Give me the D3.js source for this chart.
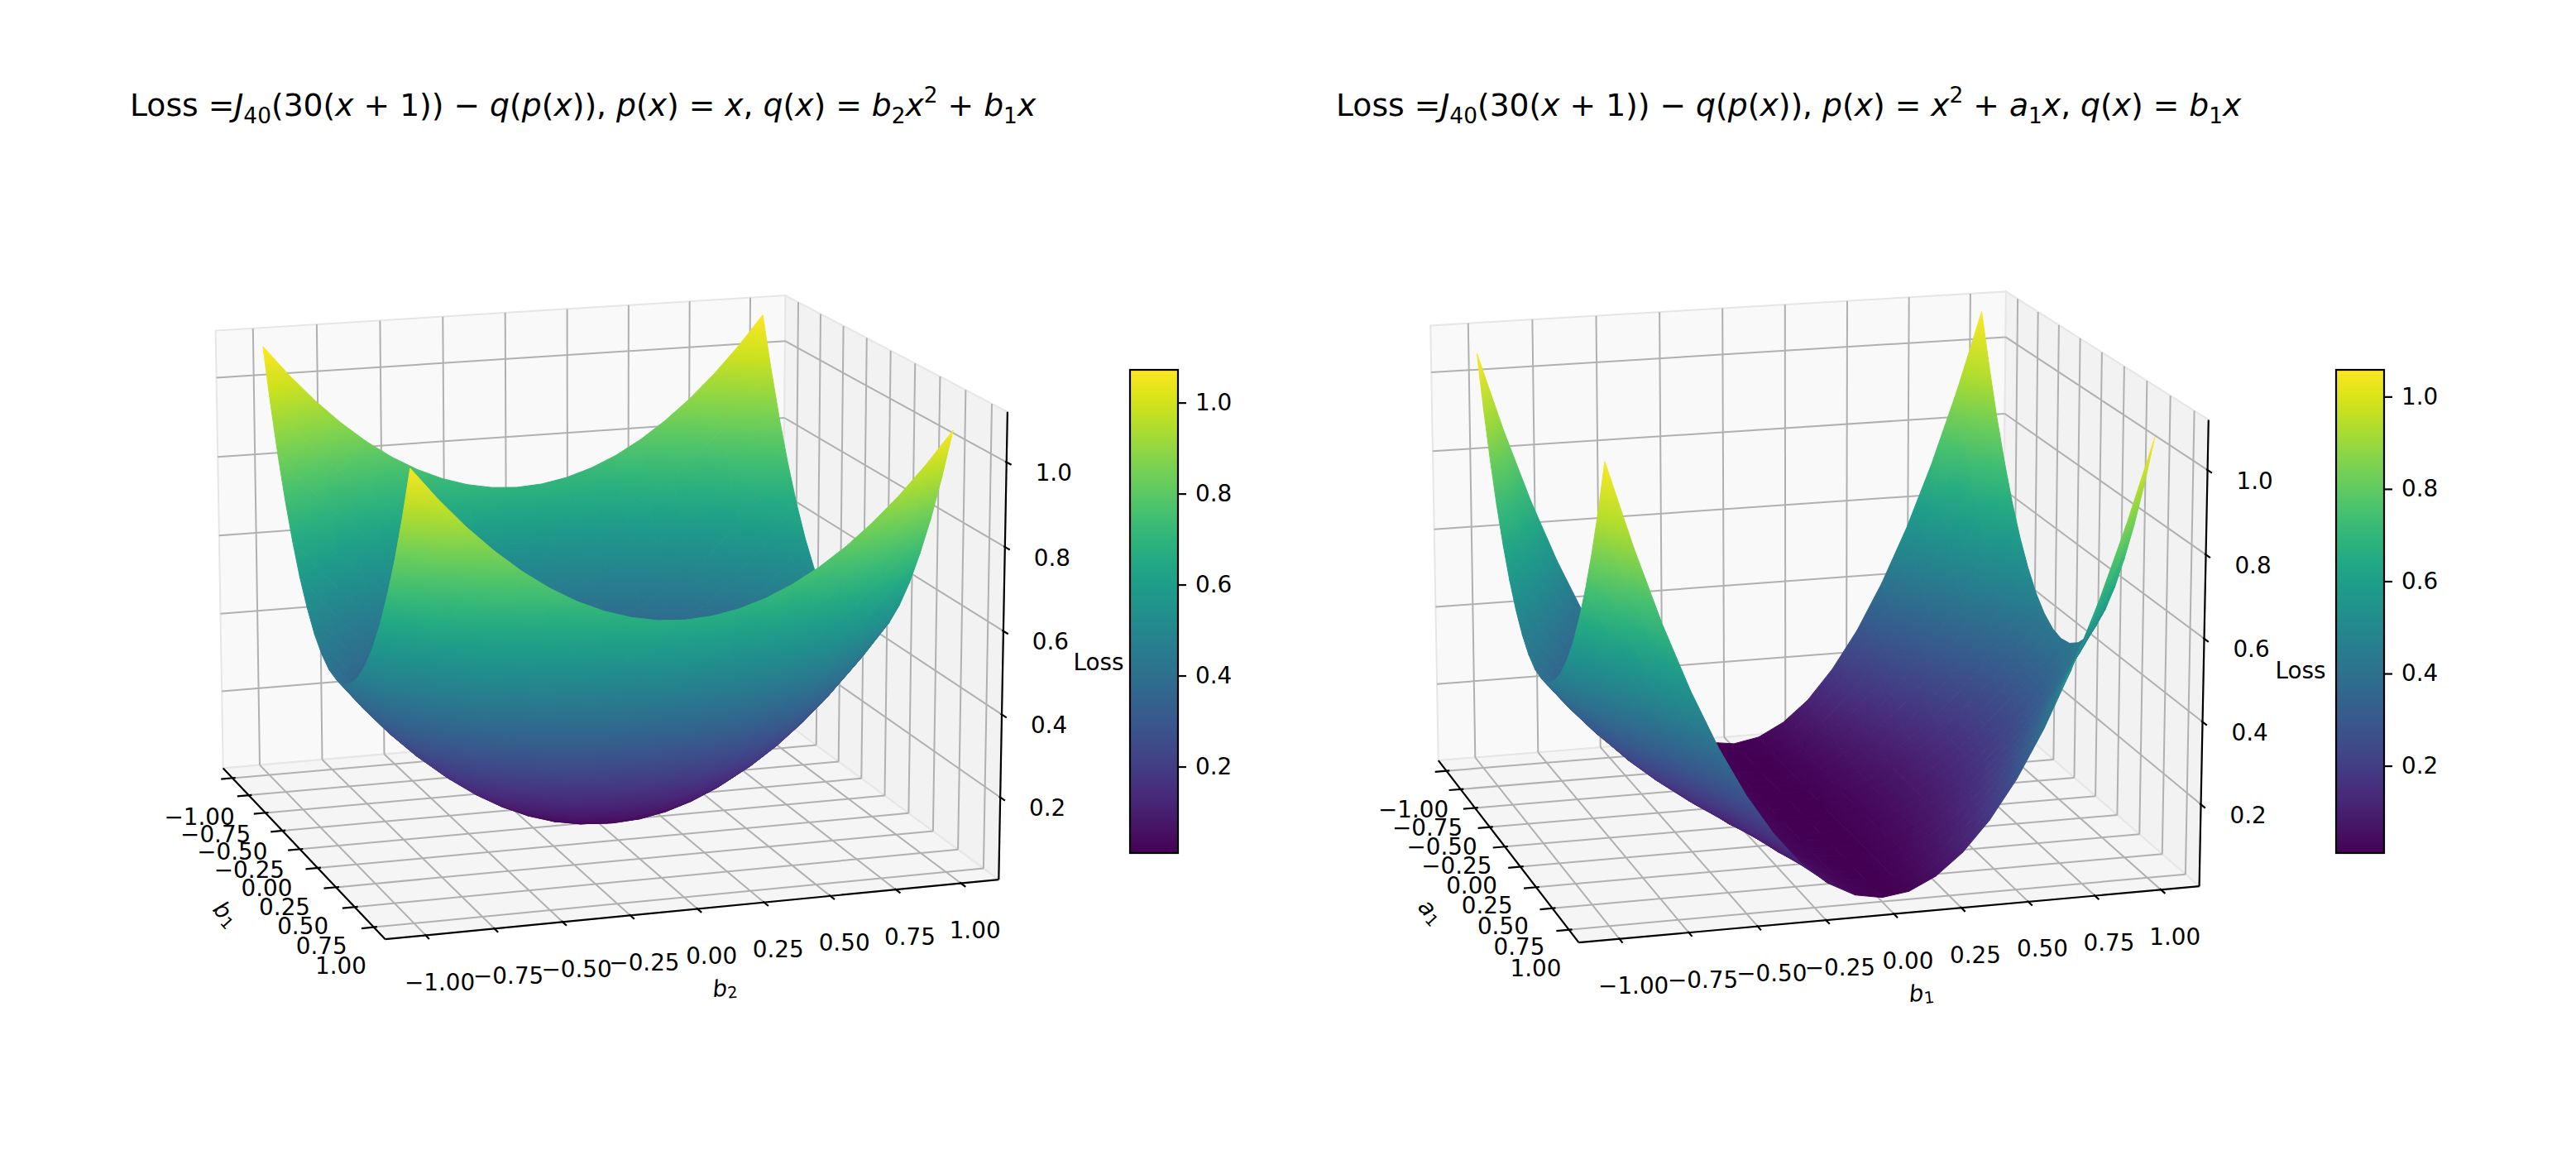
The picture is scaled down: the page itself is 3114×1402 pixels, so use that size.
<!DOCTYPE html>
<html>
<head>
<meta charset="utf-8">
<script src="https://cdn.jsdelivr.net/npm/d3@7"></script>
<style>
  body { margin: 0; background: #fff; }
  svg { display: block; }
  text { font-family: "DejaVu Sans", sans-serif; fill: #000; }
</style>
</head>
<body>
<script>
// sample positions of the parameter grid (both horizontal axes)
var gridPos = [-1, -0.9, -0.8, -0.7, -0.6, -0.5, -0.4, -0.3, -0.2, -0.1, 0,
               0.1, 0.2, 0.3, 0.4, 0.5, 0.6, 0.7, 0.8, 0.9, 1];

var paramTicks = [-1, -0.75, -0.5, -0.25, 0, 0.25, 0.5, 0.75, 1];
var lossTicks = [0.2, 0.4, 0.6, 0.8, 1.0];

// colour limits
var cbarRangeLeft = [0.010, 1.072];
var cbarRangeRight = [0.011, 1.058];

// left surface: rows = b1 (-1 .. 1), columns = b2 (-1 .. 1)
var lossLeft = [
  [1.091,1.015,0.947,0.887,0.835,0.791,0.755,0.727,0.707,0.695,0.691,0.695,0.707,0.727,0.755,0.791,0.835,0.887,0.947,1.015,1.091],
  [0.963,0.887,0.819,0.759,0.707,0.663,0.627,0.599,0.579,0.567,0.563,0.567,0.579,0.599,0.627,0.663,0.707,0.759,0.819,0.887,0.963],
  [0.848,0.772,0.704,0.644,0.592,0.548,0.512,0.484,0.464,0.452,0.448,0.452,0.464,0.484,0.512,0.548,0.592,0.644,0.704,0.772,0.848],
  [0.747,0.671,0.603,0.543,0.491,0.447,0.411,0.383,0.363,0.351,0.347,0.351,0.363,0.383,0.411,0.447,0.491,0.543,0.603,0.671,0.747],
  [0.659,0.583,0.515,0.455,0.403,0.359,0.323,0.295,0.275,0.263,0.259,0.263,0.275,0.295,0.323,0.359,0.403,0.455,0.515,0.583,0.659],
  [0.584,0.508,0.440,0.380,0.328,0.284,0.248,0.220,0.200,0.188,0.184,0.188,0.200,0.220,0.248,0.284,0.328,0.380,0.440,0.508,0.584],
  [0.523,0.447,0.379,0.319,0.267,0.223,0.187,0.159,0.139,0.127,0.123,0.127,0.139,0.159,0.187,0.223,0.267,0.319,0.379,0.447,0.523],
  [0.474,0.398,0.330,0.270,0.218,0.174,0.138,0.110,0.090,0.078,0.074,0.078,0.090,0.110,0.138,0.174,0.218,0.270,0.330,0.398,0.474],
  [0.440,0.364,0.296,0.236,0.184,0.140,0.104,0.076,0.056,0.044,0.040,0.044,0.056,0.076,0.104,0.140,0.184,0.236,0.296,0.364,0.440],
  [0.418,0.342,0.274,0.214,0.162,0.118,0.082,0.054,0.034,0.022,0.018,0.022,0.034,0.054,0.082,0.118,0.162,0.214,0.274,0.342,0.418],
  [0.410,0.334,0.266,0.206,0.154,0.110,0.074,0.046,0.026,0.014,0.010,0.014,0.026,0.046,0.074,0.110,0.154,0.206,0.266,0.334,0.410],
  [0.415,0.339,0.271,0.211,0.159,0.115,0.079,0.051,0.031,0.019,0.015,0.019,0.031,0.051,0.079,0.115,0.159,0.211,0.271,0.339,0.415],
  [0.434,0.358,0.290,0.230,0.178,0.134,0.098,0.070,0.050,0.038,0.034,0.038,0.050,0.070,0.098,0.134,0.178,0.230,0.290,0.358,0.434],
  [0.466,0.390,0.322,0.262,0.210,0.166,0.130,0.102,0.082,0.070,0.066,0.070,0.082,0.102,0.130,0.166,0.210,0.262,0.322,0.390,0.466],
  [0.511,0.435,0.367,0.307,0.255,0.211,0.175,0.147,0.127,0.115,0.111,0.115,0.127,0.147,0.175,0.211,0.255,0.307,0.367,0.435,0.511],
  [0.569,0.493,0.425,0.365,0.313,0.269,0.233,0.205,0.185,0.173,0.169,0.173,0.185,0.205,0.233,0.269,0.313,0.365,0.425,0.493,0.569],
  [0.641,0.565,0.497,0.437,0.385,0.341,0.305,0.277,0.257,0.245,0.241,0.245,0.257,0.277,0.305,0.341,0.385,0.437,0.497,0.565,0.641],
  [0.727,0.651,0.583,0.523,0.471,0.427,0.391,0.363,0.343,0.331,0.327,0.331,0.343,0.363,0.391,0.427,0.471,0.523,0.583,0.651,0.727],
  [0.825,0.749,0.681,0.621,0.569,0.525,0.489,0.461,0.441,0.429,0.425,0.429,0.441,0.461,0.489,0.525,0.569,0.621,0.681,0.749,0.825],
  [0.937,0.861,0.793,0.733,0.681,0.637,0.601,0.573,0.553,0.541,0.537,0.541,0.553,0.573,0.601,0.637,0.681,0.733,0.793,0.861,0.937],
  [1.062,0.986,0.918,0.858,0.806,0.762,0.726,0.698,0.678,0.666,0.662,0.666,0.678,0.698,0.726,0.762,0.806,0.858,0.918,0.986,1.062]
];

// right surface: rows = a1 (-1 .. 1), columns = b1 (-1 .. 1)
var lossRight = [
  [1.062,0.861,0.681,0.523,0.385,0.269,0.175,0.102,0.050,0.019,0.010,0.022,0.056,0.110,0.187,0.284,0.403,0.543,0.704,0.887,1.091],
  [0.937,0.760,0.601,0.461,0.341,0.238,0.155,0.091,0.045,0.018,0.010,0.021,0.050,0.099,0.166,0.252,0.356,0.480,0.622,0.783,0.963],
  [0.825,0.669,0.530,0.407,0.301,0.211,0.138,0.081,0.041,0.017,0.010,0.020,0.045,0.088,0.147,0.223,0.315,0.423,0.548,0.690,0.848],
  [0.727,0.590,0.467,0.359,0.266,0.187,0.122,0.072,0.037,0.016,0.010,0.018,0.041,0.078,0.130,0.197,0.278,0.373,0.483,0.608,0.747],
  [0.641,0.521,0.413,0.318,0.235,0.166,0.109,0.065,0.034,0.016,0.010,0.017,0.037,0.070,0.116,0.174,0.246,0.330,0.427,0.536,0.659],
  [0.569,0.463,0.367,0.283,0.210,0.148,0.098,0.059,0.031,0.015,0.010,0.016,0.034,0.063,0.104,0.155,0.218,0.293,0.379,0.476,0.584],
  [0.511,0.415,0.330,0.254,0.189,0.134,0.089,0.054,0.029,0.015,0.010,0.016,0.032,0.057,0.093,0.140,0.196,0.262,0.339,0.426,0.523],
  [0.466,0.379,0.301,0.232,0.173,0.123,0.082,0.050,0.028,0.014,0.010,0.015,0.029,0.053,0.085,0.127,0.178,0.238,0.308,0.387,0.474],
  [0.434,0.353,0.281,0.217,0.162,0.115,0.077,0.048,0.027,0.014,0.010,0.015,0.028,0.049,0.080,0.118,0.165,0.221,0.285,0.358,0.440],
  [0.415,0.338,0.269,0.208,0.156,0.111,0.075,0.046,0.026,0.014,0.010,0.014,0.027,0.047,0.076,0.112,0.157,0.210,0.272,0.341,0.418],
  [0.410,0.334,0.266,0.206,0.154,0.110,0.074,0.046,0.026,0.014,0.010,0.014,0.026,0.046,0.074,0.110,0.154,0.206,0.266,0.334,0.410],
  [0.418,0.341,0.272,0.210,0.157,0.112,0.076,0.047,0.027,0.014,0.010,0.014,0.026,0.046,0.075,0.111,0.156,0.208,0.269,0.338,0.415],
  [0.440,0.358,0.285,0.221,0.165,0.118,0.080,0.049,0.028,0.015,0.010,0.014,0.027,0.048,0.077,0.115,0.162,0.217,0.281,0.353,0.434],
  [0.474,0.387,0.308,0.238,0.178,0.127,0.085,0.053,0.029,0.015,0.010,0.014,0.028,0.050,0.082,0.123,0.173,0.232,0.301,0.379,0.466],
  [0.523,0.426,0.339,0.262,0.196,0.140,0.093,0.057,0.032,0.016,0.010,0.015,0.029,0.054,0.089,0.134,0.189,0.254,0.330,0.415,0.511],
  [0.584,0.476,0.379,0.293,0.218,0.155,0.104,0.063,0.034,0.016,0.010,0.015,0.031,0.059,0.098,0.148,0.210,0.283,0.367,0.463,0.569],
  [0.659,0.536,0.427,0.330,0.246,0.174,0.116,0.070,0.037,0.017,0.010,0.016,0.034,0.065,0.109,0.166,0.235,0.318,0.413,0.521,0.641],
  [0.747,0.608,0.483,0.373,0.278,0.197,0.130,0.078,0.041,0.018,0.010,0.016,0.037,0.072,0.122,0.187,0.266,0.359,0.467,0.590,0.727],
  [0.848,0.690,0.548,0.423,0.315,0.223,0.147,0.088,0.045,0.020,0.010,0.017,0.041,0.081,0.138,0.211,0.301,0.407,0.530,0.669,0.825],
  [0.963,0.783,0.622,0.480,0.356,0.252,0.166,0.099,0.050,0.021,0.010,0.018,0.045,0.091,0.155,0.238,0.341,0.461,0.601,0.760,0.937],
  [1.091,0.887,0.704,0.543,0.403,0.284,0.187,0.110,0.056,0.022,0.010,0.019,0.050,0.102,0.175,0.269,0.385,0.523,0.681,0.861,1.062]
];

// titles as mathtext-ish pieces: [text, style]
var titleLeft = [["Loss  =",""],["J","i"],["40","sub"],["(30(",""],["x","i"],[" + 1)) \u2212 ",""],["q","i"],["(",""],["p","i"],["(",""],["x","i"],[")), ",""],
  ["p","i"],["(",""],["x","i"],[") = ",""],["x","i"],[", ",""],["q","i"],["(",""],["x","i"],[") = ",""],["b","i"],["2","sub"],["x","i"],["2","sup"],[" + ",""],["b","i"],["1","sub"],["x","i"]];
var titleRight = [["Loss  =",""],["J","i"],["40","sub"],["(30(",""],["x","i"],[" + 1)) \u2212 ",""],["q","i"],["(",""],["p","i"],["(",""],["x","i"],[")), ",""],
  ["p","i"],["(",""],["x","i"],[") = ",""],["x","i"],["2","sup"],[" + ",""],["a","i"],["1","sub"],["x","i"],[", ",""],["q","i"],["(",""],["x","i"],[") = ",""],["b","i"],["1","sub"],["x","i"]];

var width = 3114, height = 1402;
var svg = d3.select('body').append('svg')
            .attr('width', width)
            .attr('height', height);
var defs = svg.append('defs');

// view like matplotlib's 3d axes: box aspect 4:4:3, perspective, dist 10
var dist = 10;
var boxAspect = [1.1429, 1.1429, 0.8571];
var paneXY = [-1.146, 1.146];
var paneZ = [0.0, 1.118];

var camera = function(view) {
  var e = view.elev * Math.PI / 180, a = view.azim * Math.PI / 180;
  var w = [Math.cos(e) * Math.cos(a), Math.cos(e) * Math.sin(a), Math.sin(e)];
  var u = [-Math.sin(a), Math.cos(a), 0];
  var v = [-Math.sin(e) * Math.cos(a), -Math.sin(e) * Math.sin(a), Math.cos(e)];
  var wx = d3.scaleLinear().domain(paneXY).range([-boxAspect[0] / 2, boxAspect[0] / 2]);
  var wy = d3.scaleLinear().domain(paneXY).range([-boxAspect[1] / 2, boxAspect[1] / 2]);
  var wz = d3.scaleLinear().domain(paneZ).range([-boxAspect[2] / 2, boxAspect[2] / 2]);
  return function(x, y, z) {
    var p = [wx(x), wy(y), wz(z)];
    var pu = p[0] * u[0] + p[1] * u[1] + p[2] * u[2];
    var pv = p[0] * v[0] + p[1] * v[1] + p[2] * v[2];
    var pd = p[0] * w[0] + p[1] * w[1] + p[2] * w[2];
    var f = dist / (dist - pd);
    return [view.cx + view.s * pu * f, view.cy - view.s * pv * f, pd];
  };
};

var mathText = function(sel, pieces, size) {
  var shift = 0;
  pieces.forEach(function(pc) {
    var t = sel.append('tspan').text(pc[0]);
    var target = 0;
    if (pc[1] === 'i') t.attr('font-style', 'italic');
    if (pc[1] === 'sub') { target = size * 0.24; t.attr('font-size', size * 0.7); }
    if (pc[1] === 'sup') { target = -size * 0.42; t.attr('font-size', size * 0.7); }
    if (target !== shift) { t.attr('dy', target - shift); shift = target; }
  });
};

// linear shading across one facet, from the screen gradient of its corner values
var facetShade = function(pr, zc) {
  var ax = pr[2][0] - pr[0][0], ay = pr[2][1] - pr[0][1], az = zc[2] - zc[0];
  var bx = pr[3][0] - pr[1][0], by = pr[3][1] - pr[1][1], bz = zc[3] - zc[1];
  var det = ax * by - ay * bx;
  if (Math.abs(det) < 1e-6) return null;
  var gx = (az * by - ay * bz) / det, gy = (ax * bz - bx * az) / det;
  var gl = Math.sqrt(gx * gx + gy * gy);
  if (gl < 1e-9) return null;
  var nx = gx / gl, ny = gy / gl;
  var mx = d3.mean(pr, function(p) { return p[0]; }), my = d3.mean(pr, function(p) { return p[1]; });
  var mz = d3.mean(zc);
  var ts = pr.map(function(p) { return (p[0] - mx) * nx + (p[1] - my) * ny; });
  var t0 = d3.min(ts), t1 = d3.max(ts);
  var zlo = d3.min(zc), zhi = d3.max(zc);
  var clamp = function(val) { return Math.max(zlo, Math.min(zhi, val)); };
  return {x1: mx + t0 * nx, y1: my + t0 * ny, x2: mx + t1 * nx, y2: my + t1 * ny,
          z1: clamp(mz + gl * t0), z2: clamp(mz + gl * t1)};
};

var drawPlot = function(opt) {
  var g = svg.append('g');
  var proj = camera(opt.view);
  var lo = paneXY[0], hi = paneXY[1], z0 = paneZ[0], z1 = paneZ[1];
  var pt = function(p) { var q = proj(p[0], p[1], p[2]); return q[0].toFixed(1) + ',' + q[1].toFixed(1); };
  var poly = function(ps) { return 'M' + ps.map(pt).join('L') + 'Z'; };
  var seg = function(a, b) { return 'M' + pt(a) + 'L' + pt(b); };

  // panes: back wall, right wall, floor
  var panes = [
    {pts: [[lo, lo, z0], [lo, hi, z0], [lo, hi, z1], [lo, lo, z1]], fill: '#f9f9f9'},
    {pts: [[lo, hi, z0], [hi, hi, z0], [hi, hi, z1], [lo, hi, z1]], fill: '#f2f2f2'},
    {pts: [[lo, lo, z0], [hi, lo, z0], [hi, hi, z0], [lo, hi, z0]], fill: '#f5f5f5'}
  ];
  g.selectAll('path.pane').data(panes).enter().append('path')
    .attr('d', function(d) { return poly(d.pts); })
    .attr('fill', function(d) { return d.fill; })
    .attr('stroke', '#e6e6e6')
    .attr('stroke-width', 2);

  // grid lines
  var grid = [];
  paramTicks.forEach(function(t) {
    grid.push([[lo, t, z0], [lo, t, z1]]);
    grid.push([[t, hi, z0], [t, hi, z1]]);
    grid.push([[t, lo, z0], [t, hi, z0]]);
    grid.push([[lo, t, z0], [hi, t, z0]]);
  });
  lossTicks.forEach(function(t) {
    grid.push([[lo, lo, t], [lo, hi, t]]);
    grid.push([[lo, hi, t], [hi, hi, t]]);
  });
  g.selectAll('path.grid').data(grid).enter().append('path')
    .attr('d', function(d) { return seg(d[0], d[1]); })
    .attr('stroke', '#b0b0b0')
    .attr('stroke-width', 2)
    .attr('fill', 'none');

  // axis lines
  var axes = [[[lo, lo, z0], [hi, lo, z0]], [[hi, lo, z0], [hi, hi, z0]], [[hi, hi, z0], [hi, hi, z1]]];
  g.selectAll('path.axis').data(axes).enter().append('path')
    .attr('d', function(d) { return seg(d[0], d[1]); })
    .attr('stroke', '#000')
    .attr('stroke-width', 2.2);

  // ticks
  var ticks = [];
  paramTicks.forEach(function(t) {
    ticks.push([[t, lo + 0.012, z0], [t, lo - 0.045, z0]]);
    ticks.push([[hi - 0.012, t, z0], [hi + 0.045, t, z0]]);
  });
  lossTicks.forEach(function(t) {
    ticks.push([[hi - 0.012, hi, t], [hi + 0.045, hi, t]]);
  });
  g.selectAll('path.tick').data(ticks).enter().append('path')
    .attr('d', function(d) { return seg(d[0], d[1]); })
    .attr('stroke', '#000')
    .attr('stroke-width', 2.2);

  var fmt2 = d3.format('.2f'), fmt1 = d3.format('.1f');
  var labels = g.append('g').attr('font-size', 27.8).attr('text-anchor', 'middle');
  paramTicks.forEach(function(t) {
    var p = proj(t, lo, z0);
    labels.append('text').attr('x', p[0] - 40).attr('y', p[1] + 47)
      .attr('dominant-baseline', 'central').text(fmt2(t));
    var q = proj(hi, t, z0);
    labels.append('text').attr('x', q[0] + 17).attr('y', q[1] + 57)
      .attr('dominant-baseline', 'central').text(fmt2(t));
  });
  lossTicks.forEach(function(t) {
    var p = proj(hi, hi, t);
    labels.append('text').attr('x', p[0] + 57).attr('y', p[1] + 13)
      .attr('dominant-baseline', 'central').text(fmt1(t));
  });

  // axis labels
  var pd0 = proj(0, lo, z0);
  var dl = labels.append('text')
    .attr('transform', 'translate(' + (pd0[0] - 89) + ',' + (pd0[1] + 78) + ') rotate(48)')
    .attr('dominant-baseline', 'central');
  mathText(dl, [[opt.depthName, 'i'], ['1', 'sub']], 27.8);
  var pf0 = proj(hi, 0, z0);
  var fl = labels.append('text')
    .attr('transform', 'translate(' + (pf0[0] + 33) + ',' + (pf0[1] + 95) + ') rotate(-5.6)')
    .attr('dominant-baseline', 'central');
  mathText(fl, [['b', 'i'], [opt.frontSub, 'sub']], 27.8);
  labels.append('text').attr('x', opt.lossLabel[0]).attr('y', opt.lossLabel[1])
    .attr('dominant-baseline', 'central').text('Loss');

  // surface
  var zs = opt.loss;
  var color = d3.scaleSequential(d3.interpolateViridis).domain(opt.cbar).clamp(true);
  var quads = [];
  for (var i = 0; i < gridPos.length - 1; i++) {
    for (var j = 0; j < gridPos.length - 1; j++) {
      var c = [[i, j], [i + 1, j], [i + 1, j + 1], [i, j + 1]].map(function(k) {
        return [gridPos[k[0]], gridPos[k[1]], zs[k[0]][k[1]]];
      });
      var pr = c.map(function(p) { return proj(p[0], p[1], p[2]); });
      var zc = c.map(function(p) { return p[2]; });
      quads.push({
        id: opt.id + 'f' + i + '_' + j,
        d: 'M' + pr.map(function(p) { return p[0].toFixed(1) + ',' + p[1].toFixed(1); }).join('L') + 'Z',
        depth: d3.mean(pr, function(p) { return p[2]; }),
        z: d3.mean(zc),
        shade: facetShade(pr, zc)
      });
    }
  }
  quads.sort(function(a, b) { return a.depth - b.depth; });
  quads.forEach(function(q) {
    if (!q.shade) { q.paint = color(q.z); return; }
    var lg = defs.append('linearGradient').attr('id', q.id)
      .attr('gradientUnits', 'userSpaceOnUse')
      .attr('x1', q.shade.x1).attr('y1', q.shade.y1)
      .attr('x2', q.shade.x2).attr('y2', q.shade.y2);
    [0, 0.5, 1].forEach(function(t) {
      lg.append('stop').attr('offset', t)
        .attr('stop-color', color(q.shade.z1 + (q.shade.z2 - q.shade.z1) * t));
    });
    q.paint = 'url(#' + q.id + ')';
  });
  g.selectAll('path.facet').data(quads).enter().append('path')
    .attr('d', function(d) { return d.d; })
    .attr('fill', function(d) { return d.paint; })
    .attr('stroke', function(d) { return d.paint; })
    .attr('stroke-width', 1)
    .attr('stroke-linejoin', 'round');

  // colorbar
  var gradId = 'grad' + opt.id;
  var grad = defs.append('linearGradient').attr('id', gradId)
    .attr('x1', 0).attr('y1', 1).attr('x2', 0).attr('y2', 0);
  d3.range(0, 1.0001, 0.05).forEach(function(t) {
    grad.append('stop').attr('offset', t).attr('stop-color', d3.interpolateViridis(t));
  });
  var cbTop = 447, cbBottom = 1031, cbW = 58;
  g.append('rect').attr('x', opt.cbX).attr('y', cbTop)
    .attr('width', cbW).attr('height', cbBottom - cbTop)
    .attr('fill', 'url(#' + gradId + ')')
    .attr('stroke', '#000').attr('stroke-width', 2.2);
  var cbScale = d3.scaleLinear().domain(opt.cbar).range([cbBottom, cbTop]);
  var cbAxis = g.append('g')
    .attr('transform', 'translate(' + (opt.cbX + cbW) + ',0)')
    .call(d3.axisRight(cbScale).tickValues(lossTicks).tickSize(10).tickPadding(11).tickFormat(fmt1));
  cbAxis.select('.domain').remove();
  cbAxis.selectAll('line').attr('stroke', '#000').attr('stroke-width', 2.2);
  cbAxis.selectAll('text').attr('font-size', 27.8).attr('font-family', '"DejaVu Sans", sans-serif');

  // title
  var title = svg.append('text').attr('x', opt.titleX).attr('y', 140).attr('font-size', 37.7);
  mathText(title, opt.title, 37.7);
};

drawPlot({id: 'L', view: {elev: 14, azim: -18, s: 657, cx: 722, cy: 723},
          loss: lossLeft, cbar: cbarRangeLeft, depthName: 'b', frontSub: '2',
          lossLabel: [1328, 800], cbX: 1366, titleX: 157, title: titleLeft});
drawPlot({id: 'R', view: {elev: 15, azim: -16, s: 657, cx: 2181.5, cy: 723.3},
          loss: lossRight, cbar: cbarRangeRight, depthName: 'a', frontSub: '1',
          lossLabel: [2781, 810], cbX: 2824, titleX: 1615, title: titleRight});
</script>
</body>
</html>
